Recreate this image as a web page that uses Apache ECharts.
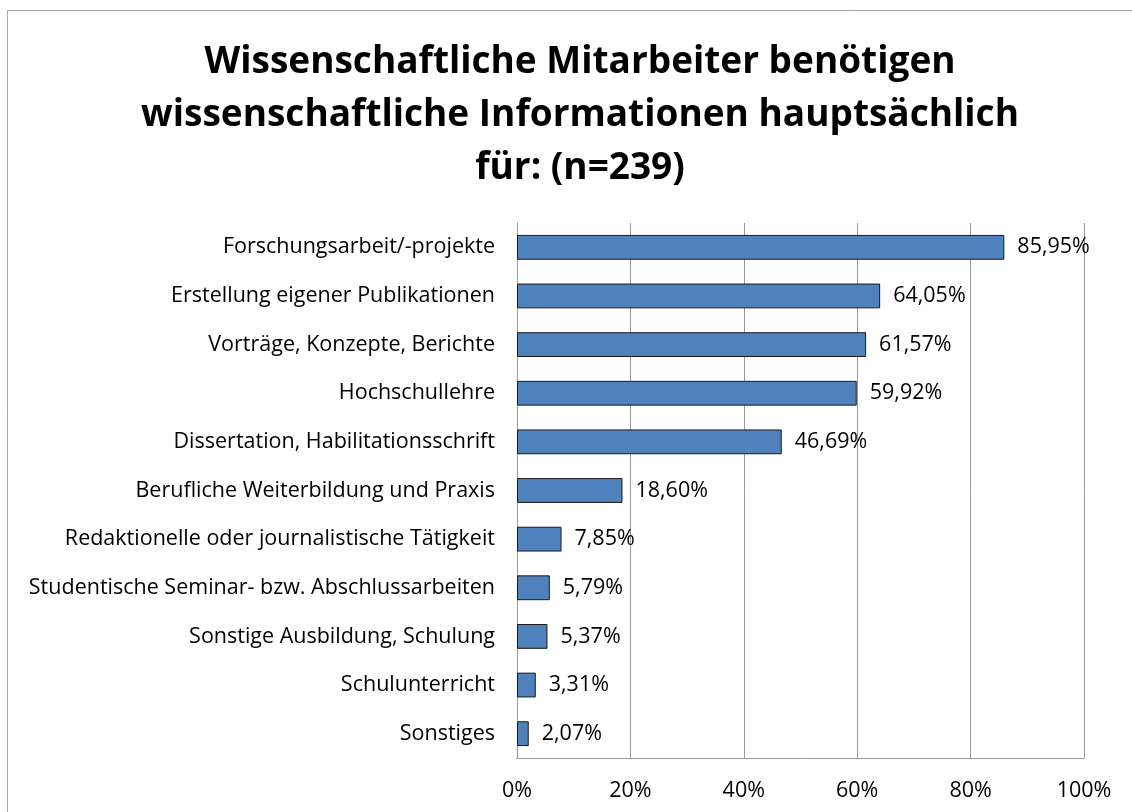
<!DOCTYPE html>
<html lang="de">
<head>
  <meta charset="UTF-8">
  <title>Wissenschaftliche Mitarbeiter</title>
  <script src="https://cdn.jsdelivr.net/npm/echarts@6/dist/echarts.min.js"></script>
  <style>
    html, body { margin: 0; padding: 0; background: #fff; }
    #main { width: 1132px; height: 812px; }
  </style>
</head>
<body>
  <div id="main"></div>
  <script>
    const categories = [
      'Forschungsarbeit/-projekte',
      'Erstellung eigener Publikationen',
      'Vorträge, Konzepte, Berichte',
      'Hochschullehre',
      'Dissertation, Habilitationsschrift',
      'Berufliche Weiterbildung und Praxis',
      'Redaktionelle oder journalistische Tätigkeit',
      'Studentische Seminar- bzw. Abschlussarbeiten',
      'Sonstige Ausbildung, Schulung',
      'Schulunterricht',
      'Sonstiges'
    ];
    const values = [85.95, 64.05, 61.57, 59.92, 46.69, 18.60, 7.85, 5.79, 5.37, 3.31, 2.07];

    const font = 'Open Sans';
    const chart = echarts.init(document.getElementById('main'));

    chart.setOption({
      animation: false,
      title: {
        text: 'Wissenschaftliche Mitarbeiter benötigen\nwissenschaftliche Informationen hauptsächlich\nfür: (n=239)',
        left: 575,
        top: 31,
        textAlign: 'center',
        textStyle: {
          fontFamily: font,
          fontWeight: 'bold',
          fontSize: 37,
          lineHeight: 53,
          color: '#000'
        }
      },
      graphic: [{
        type: 'rect',
        shape: { x: 7.5, y: 10.5, width: 1200, height: 900 },
        style: { fill: 'none', stroke: '#a6a6a6', lineWidth: 1 },
        silent: true
      }],
      grid: { left: 517, right: 48, top: 223, bottom: 54 },
      xAxis: {
        type: 'value',
        min: 0,
        max: 100,
        interval: 20,
        axisLine: { show: true, lineStyle: { color: '#999' } },
        axisTick: { show: false },
        splitLine: { lineStyle: { color: '#999', width: 1 } },
        axisLabel: {
          formatter: '{value}%',
          fontFamily: font,
          fontSize: 21.5,
          color: '#000',
          margin: 22
        }
      },
      yAxis: {
        type: 'category',
        data: categories,
        inverse: true,
        axisLine: { show: true, lineStyle: { color: '#999' } },
        axisTick: { show: false },
        axisLabel: {
          fontFamily: font,
          fontSize: 21.5,
          color: '#000',
          margin: 22
        }
      },
      series: [{
        type: 'bar',
        data: values,
        barWidth: '51%',
        itemStyle: { color: '#4f81bd', borderColor: '#1a1a1a', borderWidth: 1 },
        label: {
          show: true,
          position: 'right',
          distance: 13,
          fontFamily: font,
          fontSize: 21.5,
          color: '#000',
          formatter: p => p.value.toFixed(2).replace('.', ',') + '%'
        }
      }]
    });
  </script>
</body>
</html>
